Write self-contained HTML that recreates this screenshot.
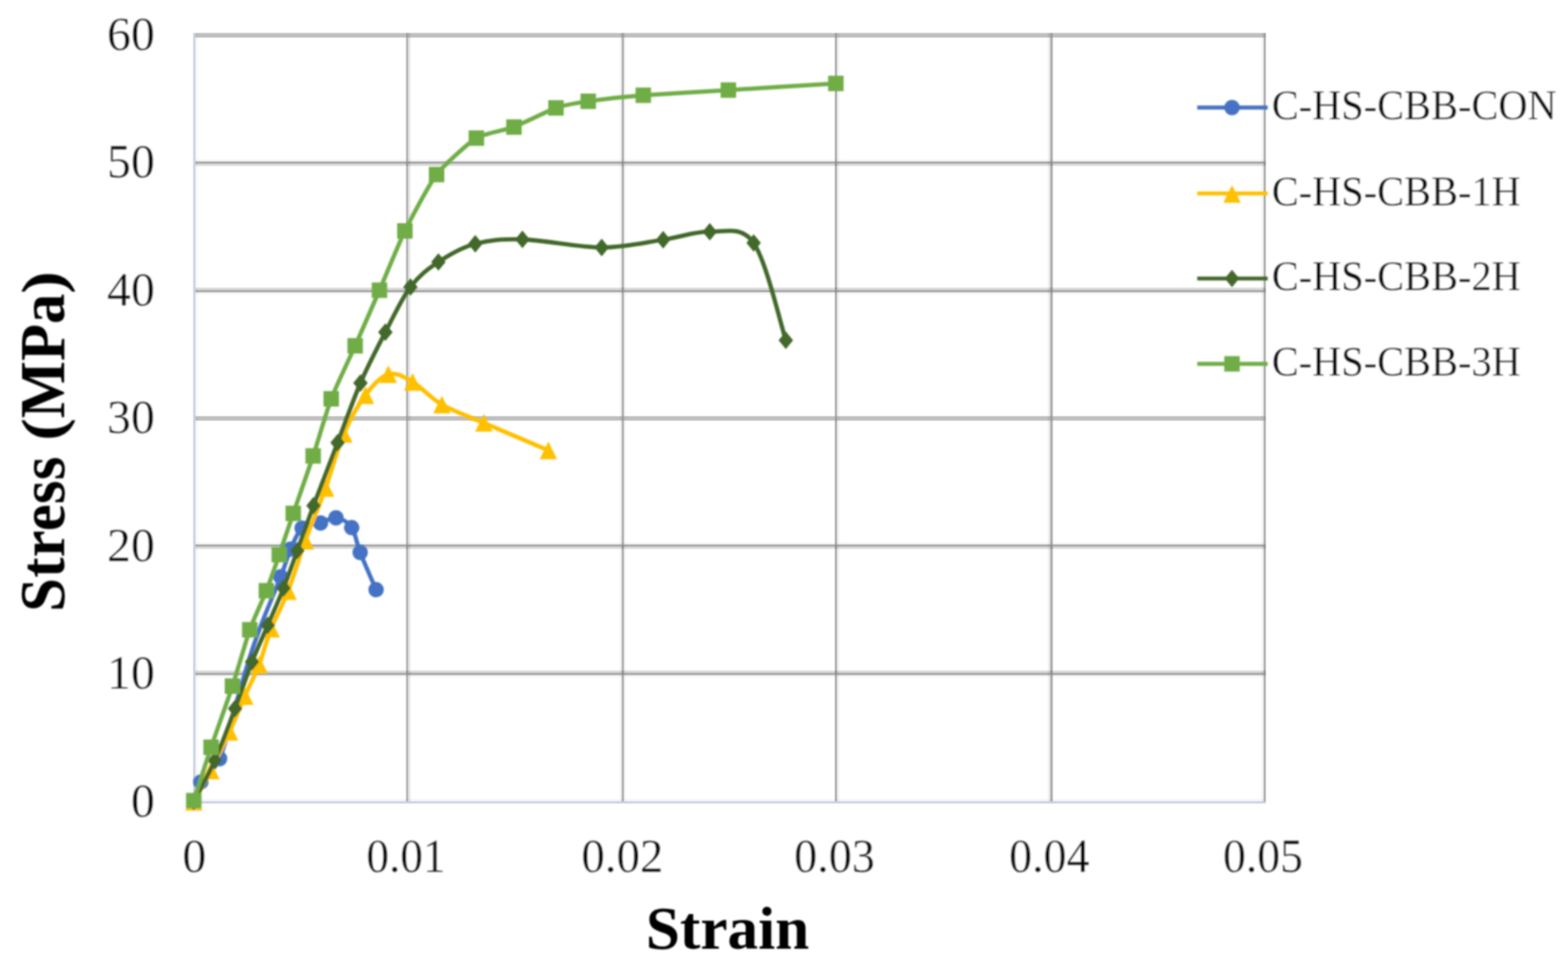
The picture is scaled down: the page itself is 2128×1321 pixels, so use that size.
<!DOCTYPE html>
<html lang="en"><head><meta charset="utf-8"><title>Stress-Strain chart</title>
<style>
html,body{margin:0;padding:0;background:#fff;}
body{width:2128px;height:1321px;}
svg{display:block;}
text{font-family:"Liberation Serif",serif;fill:#000;}
.tick{font-size:66px;stroke:#fff;stroke-width:0.4px;}
.leg{font-size:56.5px;stroke:#fff;stroke-width:0.4px;}
.ttl{font-size:82px;font-weight:bold;}
</style></head><body>
<svg width="2128" height="1321" viewBox="0 0 2128 1321">
<defs><filter id="soft" filterUnits="userSpaceOnUse" x="0" y="0" width="2128" height="1321"><feGaussianBlur stdDeviation="1.0"/></filter><filter id="softg" filterUnits="userSpaceOnUse" x="0" y="0" width="2128" height="1321" color-interpolation-filters="sRGB"><feConvolveMatrix order="3" kernelMatrix="1 2 1 2 4 2 1 2 1" divisor="16" edgeMode="none" preserveAlpha="false"/></filter></defs>
<rect x="0" y="0" width="2128" height="1321" fill="#fff"/>
<g filter="url(#softg)"><g fill="#000"><rect x="265.2" y="44.8" width="1452.7" height="6.2" fill-opacity="0.25"/><rect x="265.2" y="216.2" width="1452.7" height="3" fill-opacity="0.035"/><rect x="265.2" y="219.2" width="1452.7" height="3.1" fill-opacity="0.345"/><rect x="265.2" y="222.3" width="1452.7" height="3" fill-opacity="0.14"/><rect x="265.2" y="390.5" width="1452.7" height="3.2" fill-opacity="0.14"/><rect x="265.2" y="393.7" width="1452.7" height="3.1" fill-opacity="0.345"/><rect x="265.2" y="396.8" width="1452.7" height="3" fill-opacity="0.035"/><rect x="265.2" y="565" width="1452.7" height="6.1" fill-opacity="0.25"/><rect x="265.2" y="736.2" width="1452.7" height="3" fill-opacity="0.035"/><rect x="265.2" y="739.2" width="1452.7" height="3" fill-opacity="0.345"/><rect x="265.2" y="742.2" width="1452.7" height="3.1" fill-opacity="0.14"/><rect x="265.2" y="910.3" width="1452.7" height="3.1" fill-opacity="0.14"/><rect x="265.2" y="913.4" width="1452.7" height="3.2" fill-opacity="0.345"/><rect x="265.2" y="916.6" width="1452.7" height="3" fill-opacity="0.035"/></g><g fill="#000"><rect x="551" y="44.8" width="3" height="1043.1" fill-opacity="0.295"/><rect x="554" y="44.8" width="3.2" height="1043.1" fill-opacity="0.09"/><rect x="840.6" y="44.8" width="3" height="1043.1" fill-opacity="0.027"/><rect x="843.6" y="44.8" width="3.2" height="1043.1" fill-opacity="0.32"/><rect x="846.8" y="44.8" width="3" height="1043.1" fill-opacity="0.027"/><rect x="1133" y="44.8" width="3" height="1043.1" fill-opacity="0.32"/><rect x="1136" y="44.8" width="3.3" height="1043.1" fill-opacity="0.047"/><rect x="1422.1" y="44.8" width="3.1" height="1043.1" fill-opacity="0.063"/><rect x="1425.2" y="44.8" width="3.6" height="1043.1" fill-opacity="0.32"/><rect x="1711.8" y="44.8" width="3.1" height="1043.1" fill-opacity="0.047"/><rect x="1714.9" y="44.8" width="3" height="1043.1" fill-opacity="0.32"/></g><g fill="#fff" fill-opacity="0.21"><rect x="551" y="44.8" width="3" height="6.2"/><rect x="843.6" y="44.8" width="3.2" height="6.2"/><rect x="1133" y="44.8" width="3" height="6.2"/><rect x="1425.2" y="44.8" width="3.6" height="6.2"/><rect x="1714.9" y="44.8" width="3" height="6.2"/><rect x="551" y="219.2" width="3" height="3.1"/><rect x="843.6" y="219.2" width="3.2" height="3.1"/><rect x="1133" y="219.2" width="3" height="3.1"/><rect x="1425.2" y="219.2" width="3.6" height="3.1"/><rect x="1714.9" y="219.2" width="3" height="3.1"/><rect x="551" y="393.7" width="3" height="3.1"/><rect x="843.6" y="393.7" width="3.2" height="3.1"/><rect x="1133" y="393.7" width="3" height="3.1"/><rect x="1425.2" y="393.7" width="3.6" height="3.1"/><rect x="1714.9" y="393.7" width="3" height="3.1"/><rect x="551" y="565" width="3" height="6.1"/><rect x="843.6" y="565" width="3.2" height="6.1"/><rect x="1133" y="565" width="3" height="6.1"/><rect x="1425.2" y="565" width="3.6" height="6.1"/><rect x="1714.9" y="565" width="3" height="6.1"/><rect x="551" y="739.2" width="3" height="3"/><rect x="843.6" y="739.2" width="3.2" height="3"/><rect x="1133" y="739.2" width="3" height="3"/><rect x="1425.2" y="739.2" width="3.6" height="3"/><rect x="1714.9" y="739.2" width="3" height="3"/><rect x="551" y="913.4" width="3" height="3.2"/><rect x="843.6" y="913.4" width="3.2" height="3.2"/><rect x="1133" y="913.4" width="3" height="3.2"/><rect x="1425.2" y="913.4" width="3.6" height="3.2"/><rect x="1714.9" y="913.4" width="3" height="3.2"/></g><g fill="#274377"><rect x="262.2" y="1084.8" width="1455.7" height="3.1" fill-opacity="0.05"/><rect x="262.2" y="1087.9" width="1455.7" height="2.9" fill-opacity="0.25"/><rect x="262.2" y="44.8" width="3" height="1046" fill-opacity="0.245"/><rect x="265.2" y="44.8" width="3.1" height="1046" fill-opacity="0.045"/></g></g>
<g filter="url(#soft)">
<g fill="#4472c4"><path d="M263 1088 C264.6 1083.6 266.8 1071.4 272.6 1061.7 C278.4 1052 289.9 1048.1 298 1030 C306.1 1011.9 313.8 977 321 953 C328.2 929 334.8 905.2 341 886 C347.2 866.8 351.8 855.2 358.5 838 C365.2 820.8 375 798.4 381 783 C387 767.6 389.7 756.5 394.5 745.5 C399.3 734.5 403.2 722.9 410 717 C416.8 711.1 427.3 712.3 435 710 C442.7 707.7 448.9 702 456 703 C463.1 704 471.8 708.5 477.3 716.3 C482.8 724.1 483.3 736 488.8 750 C494.3 764 506.8 792.2 510.4 800.6" fill="none" stroke="#4472c4" stroke-width="5.8" stroke-linejoin="round" stroke-linecap="round"/><circle cx="272.6" cy="1061.7" r="10.5"/><circle cx="298" cy="1030" r="10.5"/><circle cx="381" cy="783" r="10.5"/><circle cx="394.5" cy="745.5" r="10.5"/><circle cx="410" cy="717" r="10.5"/><circle cx="435" cy="710" r="10.5"/><circle cx="456" cy="703" r="10.5"/><circle cx="477.3" cy="716.3" r="10.5"/><circle cx="488.8" cy="750" r="10.5"/><circle cx="510.4" cy="800.6" r="10.5"/></g>
<g fill="#ffc000"><path d="M263 1088.5 C266.9 1081.4 278.1 1061.8 286.2 1046 C294.3 1030.2 303.9 1010.2 311.6 993.4 C319.3 976.6 325.6 960.2 332.3 945 C339 929.8 345.8 917.7 351.7 902.4 C357.6 887.1 361.4 870 368 853.4 C374.6 836.8 383.3 822.4 391 802.5 C398.7 782.6 405.9 757.4 414.4 734 C422.9 710.6 433.2 686.6 441.9 662.4 C450.6 638.2 457.6 610 466.6 589 C475.6 568 485.9 549.9 496 536.4 C506.1 522.9 516.3 511 527 508 C537.7 505 547.9 511.6 560 518.5 C572.1 525.4 583.6 540 599.7 549.3 C615.8 558.6 632.5 563.8 656.6 574.1 C680.7 584.5 729.6 605.2 744.2 611.4" fill="none" stroke="#ffc000" stroke-width="5.8" stroke-linejoin="round" stroke-linecap="round"/><path d="M263 1076.5 l11.8 24 h-23.5z"/><path d="M286.2 1034 l11.8 24 h-23.5z"/><path d="M311.6 981.4 l11.8 24 h-23.5z"/><path d="M332.3 933 l11.8 24 h-23.5z"/><path d="M351.7 890.4 l11.8 24 h-23.5z"/><path d="M368 841.4 l11.8 24 h-23.5z"/><path d="M391 790.5 l11.8 24 h-23.5z"/><path d="M414.4 722 l11.8 24 h-23.5z"/><path d="M441.9 650.4 l11.8 24 h-23.5z"/><path d="M466.6 577 l11.8 24 h-23.5z"/><path d="M496 524.4 l11.8 24 h-23.5z"/><path d="M527 496 l11.8 24 h-23.5z"/><path d="M560 506.5 l11.8 24 h-23.5z"/><path d="M599.7 537.3 l11.8 24 h-23.5z"/><path d="M656.6 562.1 l11.8 24 h-23.5z"/><path d="M744.2 599.4 l11.8 24 h-23.5z"/></g>
<g fill="#43682b"><path d="M263 1088 C267.8 1078.8 282.2 1053.5 291.5 1032.5 C300.8 1011.5 310.6 984.3 319 962 C327.4 939.7 334.6 917.3 342 898.5 C349.4 879.7 356.3 865.7 363.4 849 C370.5 832.3 378.1 815.4 384.8 798.5 C391.5 781.6 396.7 766.3 403.5 747.6 C410.3 728.9 416.4 710.9 425.5 686.5 C434.6 662.1 447.6 628.8 458.2 601 C468.8 573.2 478.4 545 489.2 520 C500 495 511.7 472.7 523 451 C534.3 429.3 545 405.6 557 389.7 C569 373.8 580.3 365.5 595 355.7 C609.7 345.9 626 336.1 645 331 C664 325.9 680.4 324.2 709 325 C737.6 325.8 784.8 335.9 816.6 336 C848.4 336.1 875.5 329.1 900 325.5 C924.5 321.9 942.8 314 963.3 314.7 C983.8 315.4 1005.6 305.2 1022.8 329.8 C1040 354.4 1059.2 440 1066.5 462" fill="none" stroke="#43682b" stroke-width="5.8" stroke-linejoin="round" stroke-linecap="round"/><path d="M263 1076.1 l9.8 11.9 l-9.8 11.9 l-9.8 -11.9z"/><path d="M291.5 1020.6 l9.8 11.9 l-9.8 11.9 l-9.8 -11.9z"/><path d="M319 950.1 l9.8 11.9 l-9.8 11.9 l-9.8 -11.9z"/><path d="M342 886.6 l9.8 11.9 l-9.8 11.9 l-9.8 -11.9z"/><path d="M363.4 837.1 l9.8 11.9 l-9.8 11.9 l-9.8 -11.9z"/><path d="M384.8 786.6 l9.8 11.9 l-9.8 11.9 l-9.8 -11.9z"/><path d="M403.5 735.7 l9.8 11.9 l-9.8 11.9 l-9.8 -11.9z"/><path d="M425.5 674.6 l9.8 11.9 l-9.8 11.9 l-9.8 -11.9z"/><path d="M458.2 589.1 l9.8 11.9 l-9.8 11.9 l-9.8 -11.9z"/><path d="M489.2 508.1 l9.8 11.9 l-9.8 11.9 l-9.8 -11.9z"/><path d="M523 439.1 l9.8 11.9 l-9.8 11.9 l-9.8 -11.9z"/><path d="M557 377.8 l9.8 11.9 l-9.8 11.9 l-9.8 -11.9z"/><path d="M595 343.8 l9.8 11.9 l-9.8 11.9 l-9.8 -11.9z"/><path d="M645 319.1 l9.8 11.9 l-9.8 11.9 l-9.8 -11.9z"/><path d="M709 313.1 l9.8 11.9 l-9.8 11.9 l-9.8 -11.9z"/><path d="M816.6 324.1 l9.8 11.9 l-9.8 11.9 l-9.8 -11.9z"/><path d="M900 313.6 l9.8 11.9 l-9.8 11.9 l-9.8 -11.9z"/><path d="M963.3 302.8 l9.8 11.9 l-9.8 11.9 l-9.8 -11.9z"/><path d="M1022.8 317.9 l9.8 11.9 l-9.8 11.9 l-9.8 -11.9z"/><path d="M1066.5 450.1 l9.8 11.9 l-9.8 11.9 l-9.8 -11.9z"/></g>
<g fill="#70ad47"><path d="M263 1087 C265.4 1079.8 281.2 1030 286.5 1014.5 C291.8 999 310.2 947.5 315.5 931.5 C320.8 915.5 334.4 868 339 855 C343.6 842 357.5 812.2 361.5 802 C365.5 791.8 375.4 763.5 379 753 C382.6 742.5 393.4 710.4 398 697 C402.6 683.6 419.9 634.5 425 619 C430.1 603.5 443.8 556.5 449.5 541.5 C455.2 526.5 475.4 484.2 482 469.5 C488.6 454.8 508.2 409.6 515 394 C521.8 378.4 541.8 329.2 549.5 313.5 C557.2 297.8 582.8 249.6 592.5 237 C602.2 224.4 636 193.9 646.5 187.5 C657 181.1 686.7 176.6 697.5 172.5 C708.3 168.4 744.4 150 754.5 146.5 C764.6 143 786.4 139.2 798.3 137.5 C810.1 135.8 854 130.8 873 129.3 C892 127.8 962.4 123.9 988.5 122.3 C1014.6 120.7 1119.8 114.2 1134.4 113.3" fill="none" stroke="#70ad47" stroke-width="5.8" stroke-linejoin="round" stroke-linecap="round"/><rect x="252.5" y="1076.5" width="21" height="21"/><rect x="276" y="1004" width="21" height="21"/><rect x="305" y="921" width="21" height="21"/><rect x="328.5" y="844.5" width="21" height="21"/><rect x="351" y="791.5" width="21" height="21"/><rect x="368.5" y="742.5" width="21" height="21"/><rect x="387.5" y="686.5" width="21" height="21"/><rect x="414.5" y="608.5" width="21" height="21"/><rect x="439" y="531" width="21" height="21"/><rect x="471.5" y="459" width="21" height="21"/><rect x="504.5" y="383.5" width="21" height="21"/><rect x="539" y="303" width="21" height="21"/><rect x="582" y="226.5" width="21" height="21"/><rect x="636" y="177" width="21" height="21"/><rect x="687" y="162" width="21" height="21"/><rect x="744" y="136" width="21" height="21"/><rect x="787.8" y="127" width="21" height="21"/><rect x="862.5" y="118.8" width="21" height="21"/><rect x="978" y="111.8" width="21" height="21"/><rect x="1123.9" y="102.8" width="21" height="21"/></g>
<g fill="#4472c4"><line x1="1624.8" y1="146" x2="1720.4" y2="146" stroke="#4472c4" stroke-width="5.3"/><circle cx="1672" cy="146" r="10.5"/></g>
<g fill="#ffc000"><line x1="1624.8" y1="262.6" x2="1720.4" y2="262.6" stroke="#ffc000" stroke-width="5.3"/><path d="M1672 251.2 l11.8 24 h-23.5z"/></g>
<g fill="#43682b"><line x1="1624.8" y1="378.1" x2="1720.4" y2="378.1" stroke="#43682b" stroke-width="5.3"/><path d="M1672 366.2 l9.8 11.9 l-9.8 11.9 l-9.8 -11.9z"/></g>
<g fill="#70ad47"><line x1="1624.8" y1="494" x2="1720.4" y2="494" stroke="#70ad47" stroke-width="5.3"/><rect x="1661.5" y="483.5" width="21" height="21"/></g>
<text class="leg" transform="translate(1726 162.1) scale(0.97 1)" text-anchor="start">C-HS-CBB-CON</text>
<text class="leg" transform="translate(1726 278.7) scale(0.97 1)" text-anchor="start">C-HS-CBB-1H</text>
<text class="leg" transform="translate(1726 394.2) scale(0.97 1)" text-anchor="start">C-HS-CBB-2H</text>
<text class="leg" transform="translate(1726 510.1) scale(0.97 1)" text-anchor="start">C-HS-CBB-3H</text>
<text class="tick" transform="translate(210 67.6) scale(0.98 1)" text-anchor="end">60</text>
<text class="tick" transform="translate(210 241.1) scale(0.98 1)" text-anchor="end">50</text>
<text class="tick" transform="translate(210 414.6) scale(0.98 1)" text-anchor="end">40</text>
<text class="tick" transform="translate(210 588.1) scale(0.98 1)" text-anchor="end">30</text>
<text class="tick" transform="translate(210 761.6) scale(0.98 1)" text-anchor="end">20</text>
<text class="tick" transform="translate(210 935.1) scale(0.98 1)" text-anchor="end">10</text>
<text class="tick" transform="translate(210 1108.6) scale(0.98 1)" text-anchor="end">0</text>
<text class="tick" transform="translate(247.4 1184.4) scale(0.9836 1)" text-anchor="start">0</text>
<text class="tick" transform="translate(497.3 1184.4) scale(0.9306 1)" text-anchor="start">0.01</text>
<text class="tick" transform="translate(789 1184.4) scale(0.9647 1)" text-anchor="start">0.02</text>
<text class="tick" transform="translate(1077.7 1184.4) scale(0.9485 1)" text-anchor="start">0.03</text>
<text class="tick" transform="translate(1369.5 1184.4) scale(0.9442 1)" text-anchor="start">0.04</text>
<text class="tick" transform="translate(1659.7 1184.4) scale(0.9415 1)" text-anchor="start">0.05</text>
<text class="ttl" transform="translate(987.4 1288.3) scale(1.014 1)" text-anchor="middle">Strain</text>
<text class="ttl" style="font-size:87px" transform="translate(87 599.3) rotate(-90) scale(0.945 1)" text-anchor="middle"><tspan style="letter-spacing:0.45px">Stress </tspan><tspan style="font-size:80px" dy="-2" textLength="32.5" lengthAdjust="spacingAndGlyphs">(</tspan><tspan dy="2">MPa</tspan><tspan style="font-size:80px" dy="-2" textLength="32.5" lengthAdjust="spacingAndGlyphs">)</tspan></text>
</g></svg>
</body></html>
